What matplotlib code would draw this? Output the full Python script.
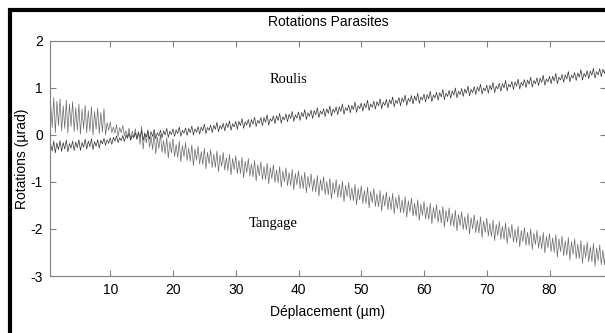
import numpy as np
import matplotlib.pyplot as plt
from matplotlib.patches import Rectangle

# samples every 0.25 um starting at 0.5 um, 8 samples per row (2 um)
x_start = 0.5
x_step = 0.25

roulis = [
    -0.19, -0.34, -0.13, -0.38, -0.17, -0.31, -0.12, -0.35,
    -0.16, -0.30, -0.11, -0.36, -0.18, -0.28, -0.13, -0.33,
    -0.15, -0.27, -0.10, -0.33, -0.16, -0.26, -0.09, -0.30,
    -0.13, -0.25, -0.08, -0.31, -0.14, -0.24, -0.10, -0.28,
    -0.11, -0.19, -0.07, -0.22, -0.10, -0.18, -0.06, -0.20,
    -0.05, -0.13, -0.02, -0.16, -0.06, -0.12, -0.01, -0.14,
    0.00, -0.07, 0.04, -0.11, -0.01, -0.06, 0.05, -0.09,
    0.04, -0.05, 0.10, -0.11, 0.03, -0.04, 0.08, -0.09,
    0.07, -0.03, 0.12, -0.08, 0.05, -0.02, 0.10, -0.06,
    0.09, 0.00, 0.14, -0.05, 0.08, 0.01, 0.13, -0.03,
    0.11, 0.03, 0.17, -0.03, 0.10, 0.04, 0.15, -0.01,
    0.14, 0.05, 0.19, 0.00, 0.13, 0.06, 0.18, 0.02,
    0.17, 0.09, 0.23, 0.03, 0.16, 0.10, 0.21, 0.05,
    0.21, 0.12, 0.27, 0.07, 0.20, 0.13, 0.25, 0.09,
    0.25, 0.16, 0.30, 0.10, 0.24, 0.17, 0.29, 0.12,
    0.29, 0.20, 0.35, 0.14, 0.28, 0.21, 0.33, 0.16,
    0.33, 0.23, 0.38, 0.18, 0.31, 0.25, 0.37, 0.20,
    0.37, 0.27, 0.43, 0.21, 0.35, 0.29, 0.41, 0.24,
    0.41, 0.31, 0.46, 0.25, 0.39, 0.32, 0.45, 0.28,
    0.44, 0.35, 0.50, 0.29, 0.43, 0.36, 0.49, 0.31,
    0.48, 0.39, 0.54, 0.33, 0.47, 0.40, 0.53, 0.35,
    0.52, 0.43, 0.58, 0.37, 0.51, 0.44, 0.56, 0.39,
    0.56, 0.46, 0.62, 0.40, 0.55, 0.48, 0.60, 0.43,
    0.60, 0.50, 0.66, 0.44, 0.58, 0.52, 0.64, 0.47,
    0.63, 0.54, 0.70, 0.48, 0.62, 0.56, 0.68, 0.51,
    0.67, 0.58, 0.74, 0.52, 0.66, 0.59, 0.72, 0.55,
    0.71, 0.62, 0.77, 0.56, 0.70, 0.63, 0.76, 0.58,
    0.75, 0.66, 0.81, 0.60, 0.74, 0.67, 0.80, 0.62,
    0.79, 0.70, 0.85, 0.63, 0.78, 0.71, 0.84, 0.66,
    0.83, 0.73, 0.89, 0.67, 0.81, 0.75, 0.87, 0.70,
    0.86, 0.77, 0.93, 0.71, 0.85, 0.79, 0.91, 0.74,
    0.90, 0.81, 0.97, 0.75, 0.89, 0.82, 0.95, 0.78,
    0.94, 0.85, 1.00, 0.79, 0.93, 0.86, 0.99, 0.82,
    0.98, 0.89, 1.04, 0.83, 0.97, 0.90, 1.03, 0.86,
    1.02, 0.93, 1.08, 0.87, 1.00, 0.94, 1.06, 0.89,
    1.06, 0.96, 1.12, 0.90, 1.04, 0.98, 1.10, 0.93,
    1.09, 1.00, 1.16, 0.94, 1.08, 1.02, 1.14, 0.97,
    1.13, 1.04, 1.19, 0.98, 1.12, 1.05, 1.18, 1.01,
    1.17, 1.08, 1.23, 1.02, 1.16, 1.09, 1.22, 1.05,
    1.21, 1.12, 1.27, 1.06, 1.19, 1.13, 1.25, 1.09,
    1.25, 1.15, 1.31, 1.09, 1.23, 1.17, 1.29, 1.12,
    1.28, 1.19, 1.35, 1.13, 1.27, 1.21, 1.33, 1.16,
    1.32, 1.23, 1.39, 1.17, 1.31, 1.24, 1.37, 1.20,
    1.36, 1.27, 1.42, 1.21, 1.35, 1.28, 1.41, 1.24,
    1.40, 1.31, 1.46, 1.25, 1.39, 1.32, 1.45, 1.28,
]

tangage = [
    0.68, 0.16, 0.80, 0.05, 0.72, 0.20, 0.77, 0.09,
    0.62, 0.14, 0.74, 0.04, 0.66, 0.18, 0.71, 0.07,
    0.58, 0.10, 0.66, 0.02, 0.55, 0.13, 0.63, 0.05,
    0.52, 0.08, 0.60, 0.00, 0.50, 0.12, 0.57, 0.03,
    0.48, 0.06, 0.56, 0.00, 0.26, 0.10, 0.28, 0.05,
    0.17, 0.04, 0.22, -0.03, 0.16, 0.05, 0.20, -0.01,
    0.09, -0.05, 0.15, -0.11, 0.08, -0.04, 0.13, -0.09,
    0.08, -0.20, 0.18, -0.30, 0.05, -0.17, 0.12, -0.26,
    -0.03, -0.31, 0.05, -0.40, -0.05, -0.29, 0.01, -0.37,
    -0.12, -0.40, -0.06, -0.49, -0.14, -0.38, -0.08, -0.46,
    -0.20, -0.48, -0.13, -0.57, -0.22, -0.46, -0.16, -0.54,
    -0.28, -0.56, -0.21, -0.65, -0.30, -0.54, -0.24, -0.62,
    -0.35, -0.63, -0.28, -0.72, -0.37, -0.61, -0.31, -0.69,
    -0.41, -0.69, -0.34, -0.78, -0.43, -0.67, -0.37, -0.75,
    -0.48, -0.76, -0.41, -0.85, -0.50, -0.74, -0.44, -0.82,
    -0.54, -0.82, -0.47, -0.91, -0.56, -0.80, -0.50, -0.88,
    -0.61, -0.89, -0.54, -0.98, -0.63, -0.87, -0.57, -0.95,
    -0.67, -0.95, -0.60, -1.04, -0.69, -0.93, -0.63, -1.01,
    -0.74, -1.02, -0.67, -1.11, -0.76, -1.00, -0.70, -1.08,
    -0.80, -1.08, -0.73, -1.17, -0.82, -1.06, -0.76, -1.14,
    -0.86, -1.14, -0.79, -1.23, -0.88, -1.12, -0.82, -1.20,
    -0.93, -1.21, -0.86, -1.30, -0.95, -1.19, -0.89, -1.27,
    -0.99, -1.27, -0.92, -1.36, -1.01, -1.25, -0.95, -1.33,
    -1.05, -1.33, -0.98, -1.42, -1.07, -1.31, -1.01, -1.39,
    -1.12, -1.40, -1.05, -1.49, -1.14, -1.38, -1.08, -1.46,
    -1.18, -1.46, -1.11, -1.55, -1.20, -1.44, -1.14, -1.52,
    -1.25, -1.53, -1.18, -1.62, -1.27, -1.51, -1.21, -1.59,
    -1.31, -1.59, -1.24, -1.68, -1.33, -1.57, -1.27, -1.65,
    -1.38, -1.66, -1.31, -1.75, -1.40, -1.64, -1.34, -1.72,
    -1.45, -1.73, -1.38, -1.82, -1.47, -1.71, -1.41, -1.79,
    -1.52, -1.80, -1.45, -1.89, -1.54, -1.78, -1.48, -1.86,
    -1.59, -1.87, -1.52, -1.96, -1.61, -1.85, -1.55, -1.93,
    -1.67, -1.95, -1.60, -2.04, -1.69, -1.93, -1.63, -2.01,
    -1.74, -2.02, -1.67, -2.11, -1.76, -2.00, -1.70, -2.08,
    -1.81, -2.09, -1.74, -2.18, -1.83, -2.07, -1.77, -2.15,
    -1.88, -2.16, -1.81, -2.25, -1.90, -2.14, -1.84, -2.22,
    -1.94, -2.22, -1.87, -2.31, -1.96, -2.20, -1.90, -2.28,
    -2.01, -2.29, -1.94, -2.38, -2.03, -2.27, -1.97, -2.35,
    -2.07, -2.35, -2.00, -2.44, -2.09, -2.33, -2.03, -2.41,
    -2.14, -2.42, -2.07, -2.51, -2.16, -2.40, -2.10, -2.48,
    -2.19, -2.50, -2.12, -2.60, -2.21, -2.48, -2.15, -2.57,
    -2.25, -2.56, -2.18, -2.66, -2.27, -2.54, -2.21, -2.63,
    -2.32, -2.63, -2.25, -2.73, -2.34, -2.61, -2.28, -2.70,
    -2.38, -2.69, -2.31, -2.79, -2.40, -2.67, -2.34, -2.76,
    -2.45, -2.76, -2.38, -2.86, -2.47, -2.74, -2.41, -2.83,
]

xticks = [10, 20, 30, 40, 50, 60, 70, 80]
yticks = [-3, -2, -1, 0, 1, 2]

x = x_start + x_step * np.arange(len(roulis))

plt.rcParams['font.family'] = ['Liberation Sans', 'DejaVu Sans']
plt.rcParams['axes.unicode_minus'] = False

fig = plt.figure(figsize=(6.05, 3.33), dpi=100)
ax = fig.add_axes([50 / 605, 57 / 333, 556 / 605, 235 / 333])

ax.plot(x, tangage, color='#6a6a6a', lw=0.5)
ax.plot(x, roulis, color='#333333', lw=0.5)

ax.set_xlim(0.4, 89)
ax.set_ylim(-3, 2)
ax.set_xticks(xticks)
ax.set_yticks(yticks)
ax.tick_params(direction='in', length=4, top=True, right=True,
               color='#808080', labelsize=10, pad=5)
for s in ax.spines.values():
    s.set_color('#808080')
    s.set_linewidth(0.8)

ax.set_title('Rotations Parasites', fontsize=10, pad=11)
ax.set_xlabel('Déplacement (µm)', fontsize=10, labelpad=6)
ax.set_ylabel('Rotations (µrad)', fontsize=10)
ax.yaxis.set_label_coords(-0.038, 0.5)

ax.text(38.4, 1.18, 'Roulis', family='Liberation Serif', fontsize=10.5,
        ha='center', va='center')
ax.text(35.9, -1.89, 'Tangage', family='Liberation Serif', fontsize=10.5,
        ha='center', va='center')

# thick black frame (only left and top edges are visible)
fig.patches.append(Rectangle((10.3 / 605, -0.5), 2, 0.5 + 323 / 333,
                             transform=fig.transFigure, fill=False,
                             edgecolor='black', lw=3, clip_on=False))

fig.savefig('out.png', dpi=100)
